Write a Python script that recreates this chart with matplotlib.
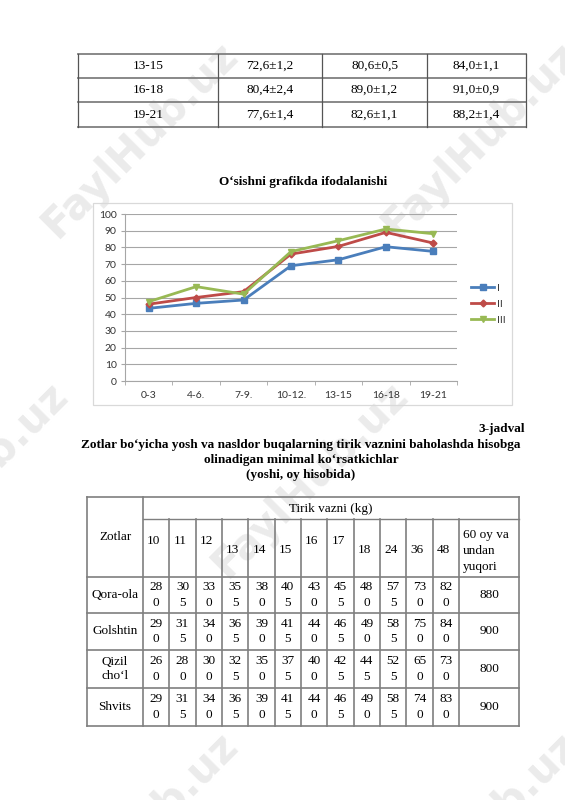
import matplotlib.pyplot as plt
from matplotlib.patches import Rectangle

# ---- data ----
top_rows = ["13-15", "16-18", "19-21"]
top_I = ["72,6±1,2", "80,4±2,4", "77,6±1,4"]
top_II = ["80,6±0,5", "89,0±1,2", "82,6±1,1"]
top_III = ["84,0±1,1", "91,0±0,9", "88,2±1,4"]

chart_title = "O‘sishni grafikda ifodalanishi"
ages = ["0-3", "4-6.", "7-9.", "10-12.", "13-15", "16-18", "19-21"]
series_I = [43.5, 46.5, 48.5, 69.0, 72.6, 80.4, 77.6]
series_II = [46.0, 50.0, 53.5, 76.0, 80.6, 89.0, 82.6]
series_III = [47.5, 56.5, 52.0, 77.5, 84.0, 91.0, 88.2]
y_ticks = [0, 10, 20, 30, 40, 50, 60, 70, 80, 90, 100]

table_no = "3-jadval"
table_title = ["Zotlar bo‘yicha yosh va nasldor buqalarning tirik vaznini baholashda hisobga",
               "olinadigan minimal ko‘rsatkichlar",
               "(yoshi, oy hisobida)"]
months = ["10", "11", "12", "13", "14", "15", "16", "17", "18", "24", "36", "48"]
last_col = ["60 oy va", "undan", "yuqori"]
breeds = ["Qora-ola", "Golshtin", "Qizil\ncho‘l", "Shvits"]
weights = [
    [280, 305, 330, 355, 380, 405, 430, 455, 480, 575, 730, 820, 880],
    [290, 315, 340, 365, 390, 415, 440, 465, 490, 585, 750, 840, 900],
    [260, 280, 300, 325, 350, 375, 400, 425, 445, 525, 650, 730, 800],
    [290, 315, 340, 365, 390, 415, 440, 465, 490, 585, 740, 830, 900],
]

W, H = 565, 800
fig = plt.figure(figsize=(W / 100, H / 100), dpi=100)
fig.patch.set_facecolor("white")

# page axes in pixel coordinates
page = fig.add_axes([0, 0, 1, 1])
page.set_xlim(0, W)
page.set_ylim(H, 0)
page.set_axis_off()

serif = "Liberation Serif"
lc = "#7f7f7f"

# watermark (cut at the page edges, as in the scan)
for cx, cy in [(140, 140), (480, 140), (310, 480), (-30, 480), (140, 830), (480, 830)]:
    page.text(cx, cy, "FaylHub.uz", rotation=45, fontsize=30, fontweight="bold",
              color="#ebebeb", ha="center", va="center", zorder=0,
              family="DejaVu Sans")

# ---- top table ----
tx = [78, 218, 322, 427, 526]
ty = [54, 78, 102, 127]
for y in ty:
    page.plot([tx[0], tx[-1]], [y, y], color=lc, lw=1.3, zorder=2)
for x in tx:
    page.plot([x, x], [ty[0], ty[-1]], color="#555555", lw=0.9, zorder=2)
for i, name in enumerate(top_rows):
    yc = (ty[i] + ty[i + 1]) / 2
    for j, val in enumerate([name, top_I[i], top_II[i], top_III[i]]):
        page.text((tx[j] + tx[j + 1]) / 2, yc, val, family=serif, fontsize=9.5,
                  ha="center", va="center", zorder=3)

# ---- chart ----
page.add_patch(Rectangle((93, 203), 512 - 93, 405 - 203, fill=False,
                         edgecolor="#d9d9d9", lw=0.9, zorder=1))
page.text(303, 182, chart_title, family=serif, fontsize=9.5, fontweight="bold",
          ha="center", va="center")

ax = fig.add_axes([125 / W, 1 - 381 / H, (457 - 125) / W, (381 - 214) / H])
ax.patch.set_alpha(0)
xs = list(range(len(ages)))
ax.plot(xs, series_I, color="#4a7ebb", lw=2, marker="s", ms=4.5, label="I")
ax.plot(xs, series_II, color="#be4b48", lw=2, marker="D", ms=3.5, label="II")
ax.plot(xs, series_III, color="#98b954", lw=2, marker="v", ms=5, label="III")
ax.set_xlim(-0.5, len(ages) - 0.5)
ax.set_ylim(0, 100)
ax.set_yticks(y_ticks)
ax.set_xticks(xs)
ax.set_xticklabels(ages)
ax.set_xticks([x - 0.5 for x in range(len(ages) + 1)], minor=True)
ax.tick_params(axis="x", which="major", length=0, pad=7, labelsize=7.5, labelcolor="#333333")
ax.tick_params(axis="x", which="minor", length=3, color="#a6a6a6", direction="out")
ax.tick_params(axis="y", length=3, color="#a6a6a6", pad=3, labelsize=7.5, labelcolor="#333333")
for lab in ax.get_xticklabels() + ax.get_yticklabels():
    lab.set_family("Lato")
ax.grid(axis="y", color="#a6a6a6", lw=0.8)
ax.set_axisbelow(True)
for s in ["top", "right"]:
    ax.spines[s].set_visible(False)
for s in ["left", "bottom"]:
    ax.spines[s].set_color("#a6a6a6")
    ax.spines[s].set_linewidth(0.8)
leg = fig.legend(loc="center left", bbox_to_anchor=(467 / W, 1 - 304 / H),
                 frameon=False, fontsize=7.5, handlelength=2.2, labelspacing=0.65,
                 handletextpad=0.3, borderaxespad=0)
for t in leg.get_texts():
    t.set_family("Lato")
    t.set_color("#333333")

# ---- bottom table title ----
page.text(525, 429, table_no, family=serif, fontsize=9.5, fontweight="bold",
          ha="right", va="center")
for line, y in zip(table_title, [445, 460, 475]):
    page.text(301, y, line, family=serif, fontsize=9.5, fontweight="bold",
              ha="center", va="center")

# ---- bottom table ----
bx0, bx1, bx_last, bx_end = 87, 143, 459, 519
col_w = (bx_last - bx1) / len(months)
cols = [bx1 + k * col_w for k in range(len(months) + 1)]
by = [497, 519, 577, 613, 650, 688, 726]

page.plot([bx0, bx_end], [by[0], by[0]], color=lc, lw=1.2)
page.plot([bx1, bx_end], [by[1], by[1]], color=lc, lw=1.0)
for y in by[2:]:
    page.plot([bx0, bx_end], [y, y], color=lc, lw=1.2)
page.plot([bx0, bx0], [by[0], by[-1]], color=lc, lw=1.2)
page.plot([bx_end, bx_end], [by[0], by[-1]], color=lc, lw=1.2)
page.plot([bx1, bx1], [by[0], by[-1]], color=lc, lw=1.2)
for x in cols[1:]:
    page.plot([x, x], [by[1], by[-1]], color=lc, lw=1.2)

page.text((bx0 + bx1) / 2, 537, "Zotlar", family=serif, fontsize=9.5,
          ha="center", va="center")
page.text((bx1 + bx_end) / 2, 509, "Tirik vazni (kg)", family=serif, fontsize=9.5,
          ha="center", va="center")
raised = ["10", "11", "12", "16", "17"]
for k, m in enumerate(months):
    y = 541 if m in raised else 550
    page.text(cols[k] + 4, y, m, family=serif, fontsize=9.5, ha="left", va="center")
for line, y in zip(last_col, [535, 551, 567]):
    page.text(bx_last + 4, y, line, family=serif, fontsize=9.5, ha="left", va="center")

for r, (breed, vals) in enumerate(zip(breeds, weights)):
    yc = (by[r + 2] + by[r + 3]) / 2
    page.text((bx0 + bx1) / 2, yc, breed, family=serif, fontsize=9.5,
              ha="center", va="center", linespacing=1.15)
    for k, v in enumerate(vals[:-1]):
        s = str(v)
        xc = (cols[k] + cols[k + 1]) / 2
        page.text(xc, yc - 7.5, s[:2], family=serif, fontsize=9.5, ha="center", va="center")
        page.text(xc, yc + 7.5, s[2:], family=serif, fontsize=9.5, ha="center", va="center")
    page.text((bx_last + bx_end) / 2, yc, str(vals[-1]), family=serif, fontsize=9.5,
              ha="center", va="center")

fig.savefig("out.png", dpi=100, facecolor="white")
